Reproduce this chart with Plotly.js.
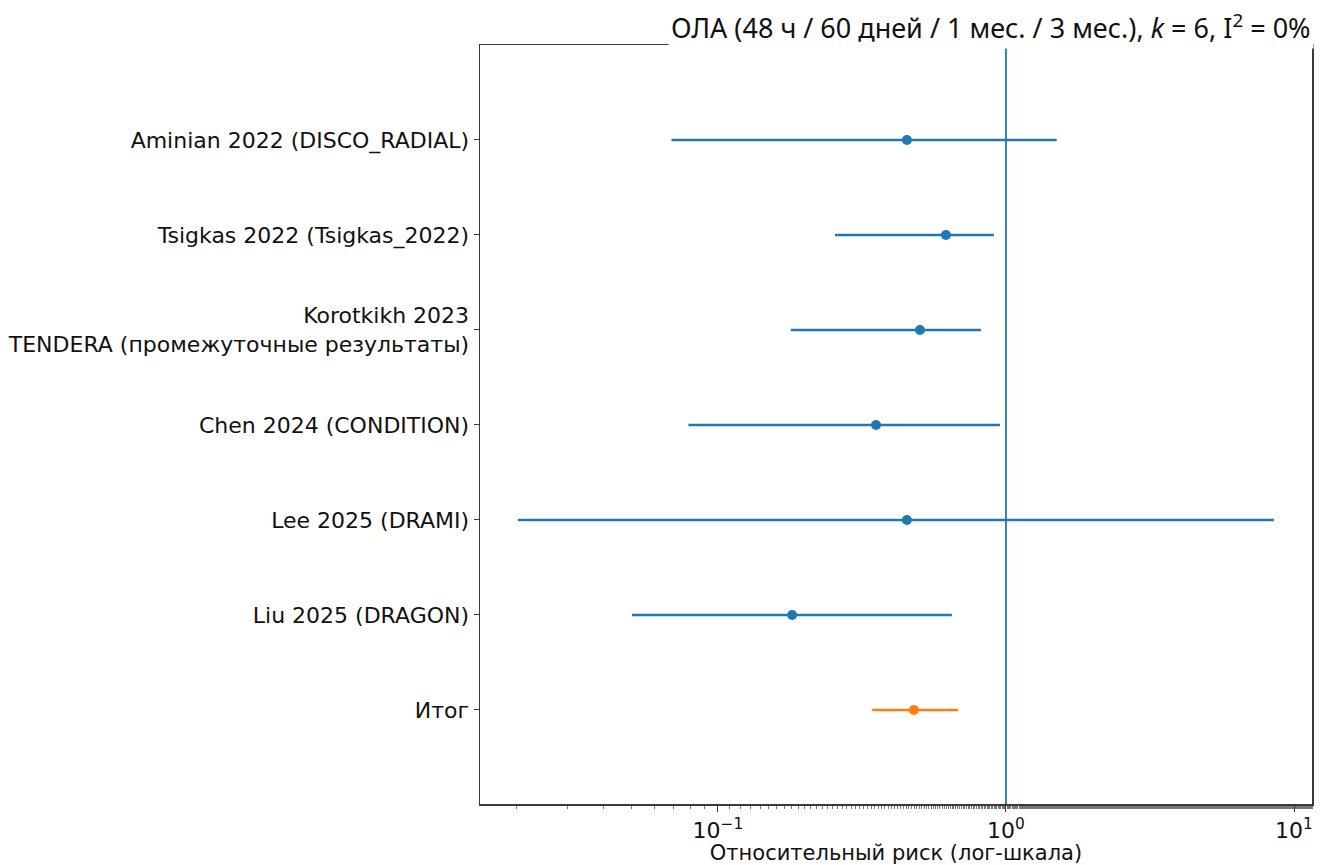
<!DOCTYPE html>
<html>
<head>
<meta charset="utf-8">
<script src="https://cdn.plot.ly/plotly-3.0.1.min.js"></script>
<style>html,body{margin:0;padding:0;background:#fff;}#chart{width:1322px;height:865px;}</style>
</head>
<body>
<div id="chart"></div>
<script>
// Study labels (top to bottom)
const studies = [
  "Aminian 2022 (DISCO_RADIAL)",
  "Tsigkas 2022 (Tsigkas_2022)",
  "Korotkikh 2023<br>TENDERA (промежуточные результаты)",
  "Chen 2024 (CONDITION)",
  "Lee 2025 (DRAMI)",
  "Liu 2025 (DRAGON)"
];
const rr    = [0.453, 0.619, 0.503, 0.354, 0.453, 0.181];
const lower = [0.069, 0.255, 0.179, 0.079, 0.0202, 0.0503];
const upper = [1.50, 0.908, 0.819, 0.953, 8.52, 0.649];

const pooledLabel = "Итог";
const pooledRR = 0.479, pooledLower = 0.343, pooledUpper = 0.681;

const xTickVals = [0.1, 1, 10];
const xTickText = ["10<sup>−1</sup>", "10<sup>0</sup>", "10<sup>1</sup>"];

const titleText = "ОЛА (48 ч / 60 дней / 1 мес. / 3 мес.), <i>k</i> = 6, I<sup>2</sup> = 0%";
const xTitle = "Относительный риск (лог-шкала)";

const blue = "#1f77b4", orange = "#ff7f0e";
const allLabels = studies.concat([pooledLabel]);
const yIdx = allLabels.map((_, i) => i);

const traces = [];
studies.forEach((s, i) => {
  traces.push({
    x: [rr[i]], y: [i], type: "scatter", mode: "markers",
    marker: {color: blue, size: 10},
    error_x: {type: "data", symmetric: false, array: [upper[i] - rr[i]], arrayminus: [rr[i] - lower[i]],
              color: blue, thickness: 2.4, width: 0},
    showlegend: false, hoverinfo: "x+y"
  });
});
traces.push({
  x: [pooledRR], y: [studies.length], type: "scatter", mode: "markers",
  marker: {color: orange, size: 10},
  error_x: {type: "data", symmetric: false, array: [pooledUpper - pooledRR], arrayminus: [pooledRR - pooledLower],
            color: orange, thickness: 2.4, width: 0},
  showlegend: false
});

const font = "DejaVu Sans, sans-serif";
const layout = {
  width: 1322, height: 865,
  margin: {l: 480, r: 10, t: 45, b: 61},
  paper_bgcolor: "#fff", plot_bgcolor: "#fff",
  font: {family: font, size: 22, color: "#111"},
  xaxis: {
    type: "log", range: [-1.826, 1.0625],
    showgrid: false, zeroline: false,
    showline: true, linecolor: "#3a3a3a", linewidth: 1.5, mirror: true,
    ticks: "outside", ticklen: 6, tickcolor: "#3a3a3a",
    tickvals: xTickVals, ticktext: xTickText,
    tickfont: {family: font, size: 22},
    minor: {ticks: "outside", ticklen: 3, tickcolor: "#777", showgrid: false},
    title: {text: xTitle, font: {family: font, size: 21}, standoff: 4}
  },
  yaxis: {
    range: [6.99, -1], autorange: false,
    tickvals: yIdx, ticktext: allLabels,
    showgrid: false, zeroline: false,
    showline: true, linecolor: "#3a3a3a", linewidth: 1.5, mirror: true,
    ticks: "outside", ticklen: 5, tickcolor: "#3a3a3a",
    tickfont: {family: font, size: 22}
  },
  shapes: [{
    type: "line", xref: "x", yref: "paper", x0: 1, x1: 1, y0: 0, y1: 1,
    line: {color: blue, width: 1.8}, layer: "below"
  }],
  annotations: [{
    text: titleText, xref: "paper", yref: "paper", x: 1.003, y: 0.9947,
    xanchor: "right", yanchor: "bottom", showarrow: false,
    font: {family: "Noto Sans, sans-serif", size: 27, color: "#111"},
    bgcolor: "#fff", borderpad: 2
  }]
};

Plotly.newPlot("chart", traces, layout, {staticPlot: true});
</script>
</body>
</html>
